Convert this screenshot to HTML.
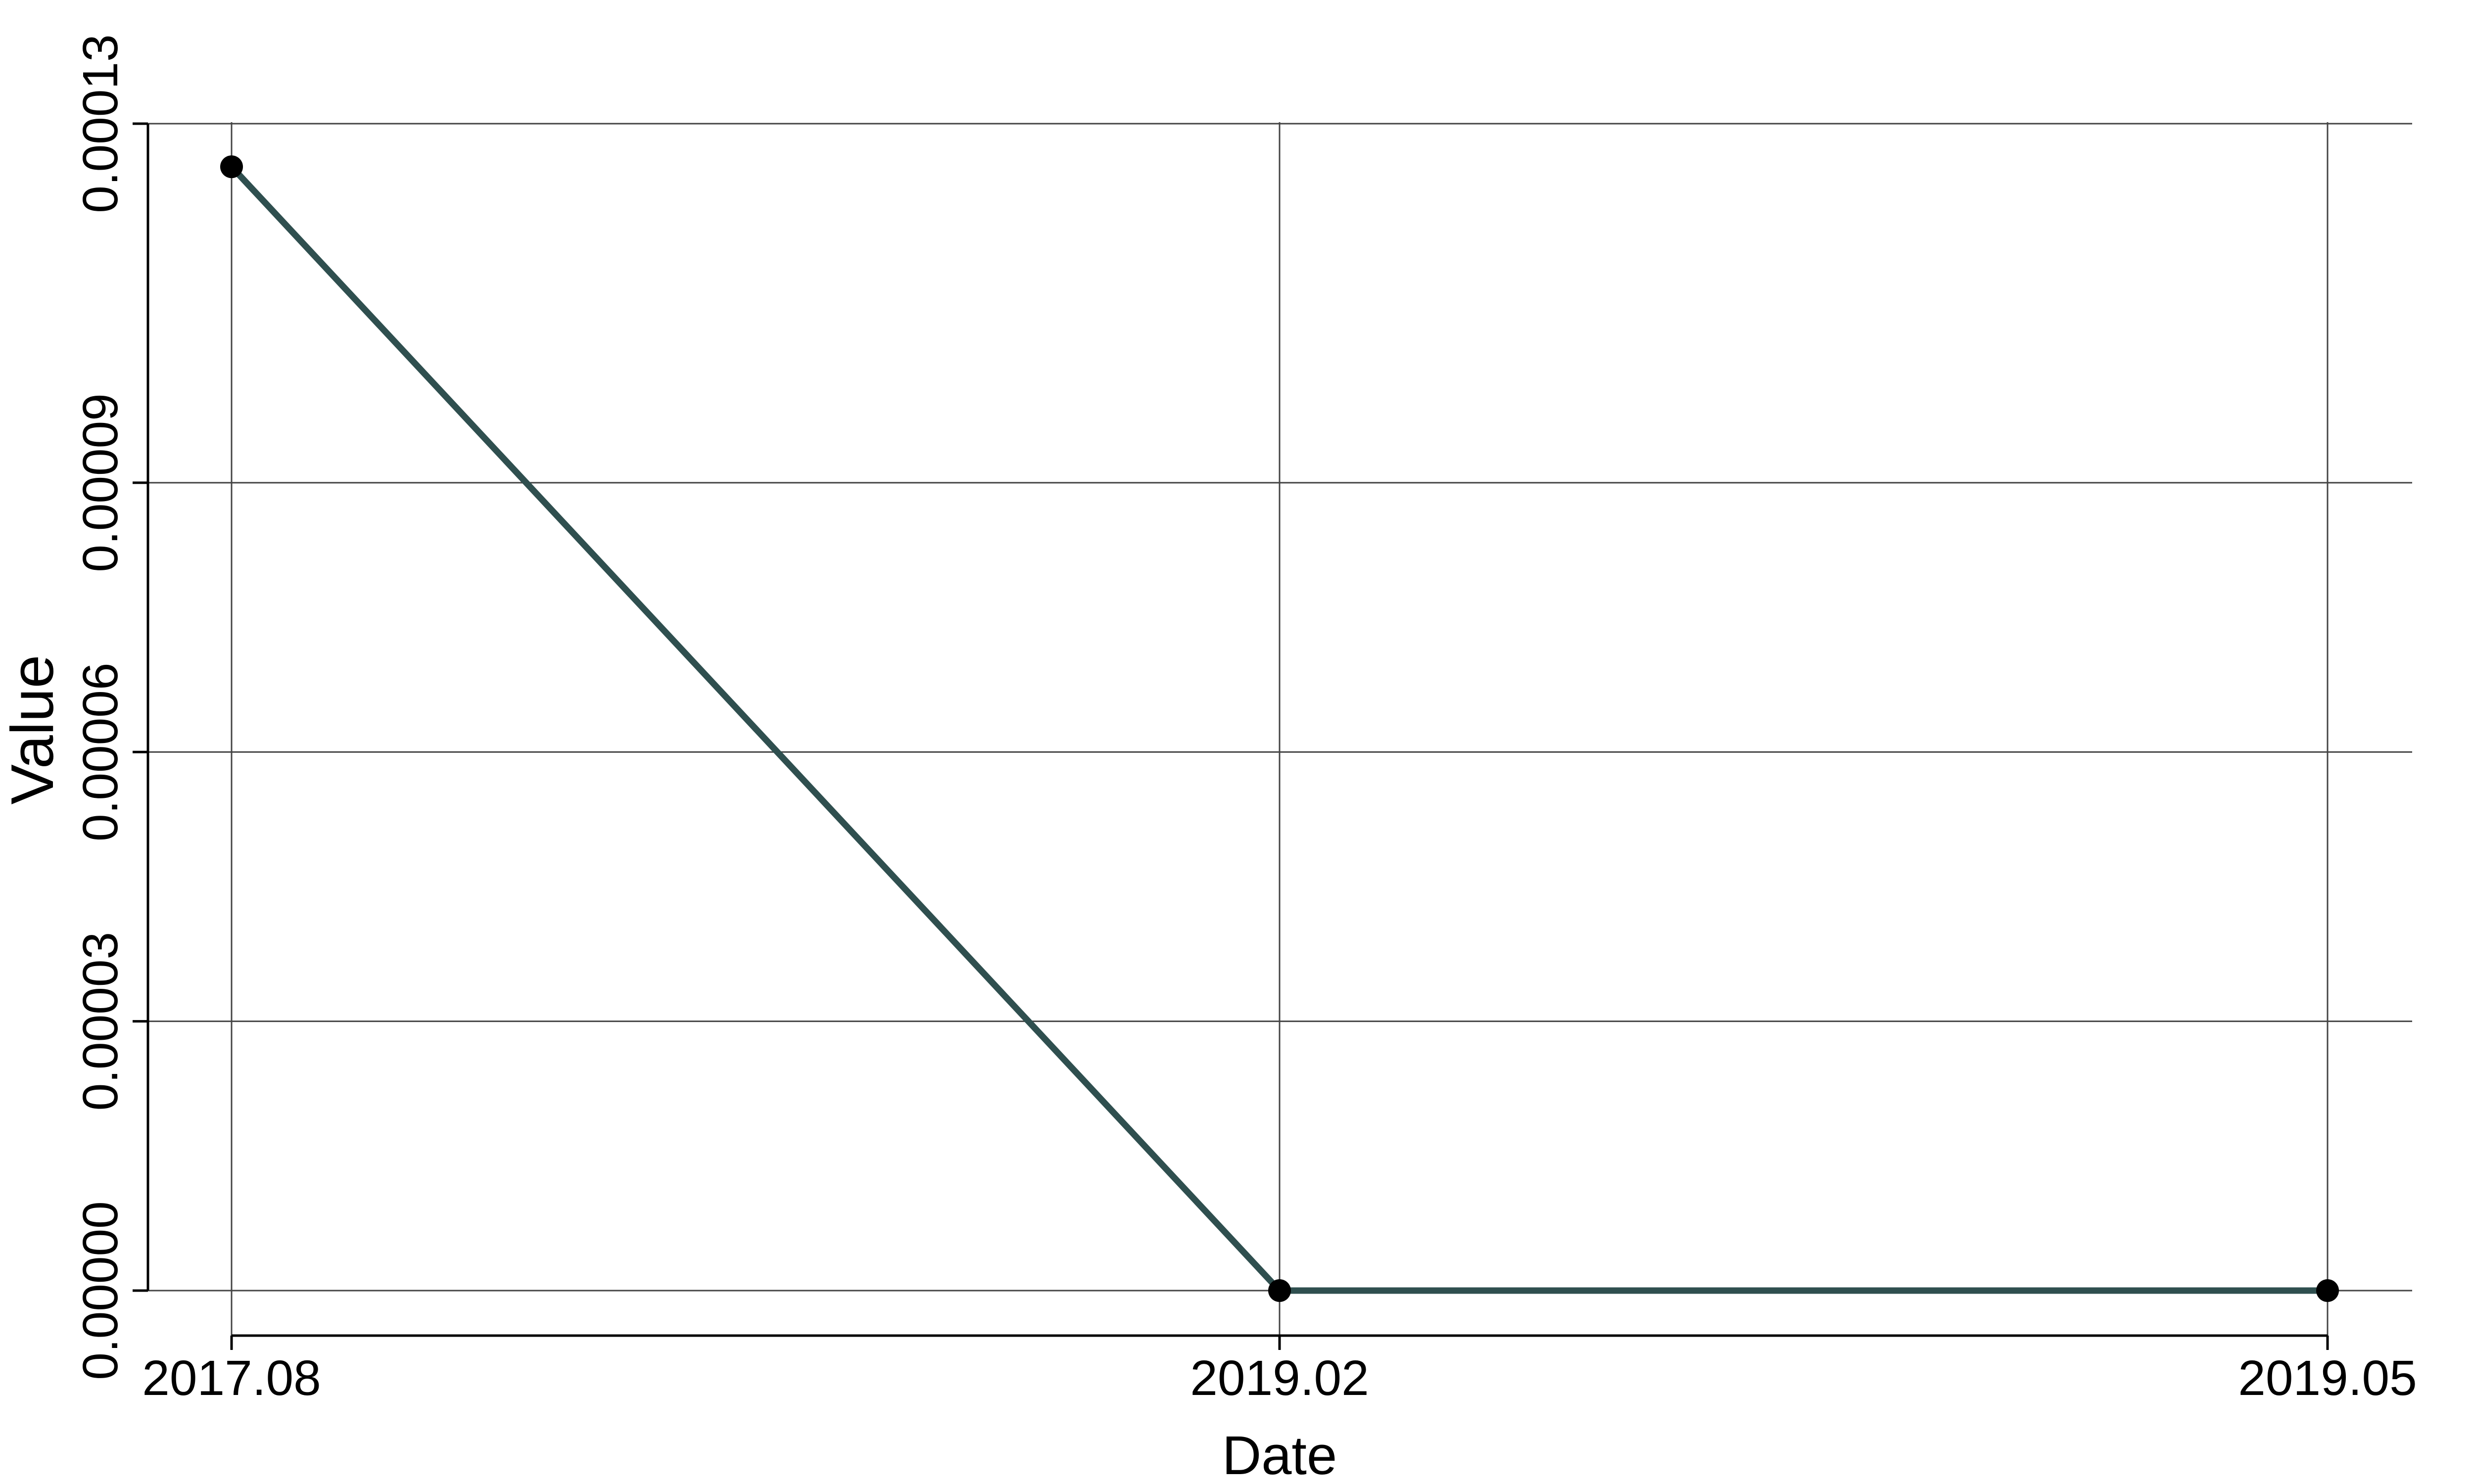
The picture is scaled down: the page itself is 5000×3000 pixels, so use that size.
<!DOCTYPE html>
<html>
<head>
<meta charset="utf-8">
<style>
html,body{margin:0;padding:0;background:#fff;}
svg{display:block;font-family:"Liberation Sans",Arial,sans-serif;}
</style>
</head>
<body>
<svg id="chart" width="5000" height="3000" viewBox="0 0 5000 3000" xmlns="http://www.w3.org/2000/svg">
<rect x="0" y="0" width="5000" height="3000" fill="#fff"/>
<g id="grid"></g>
<g id="axes"></g>
<g id="series"></g>
<text x="2586" y="2980" font-size="110" text-anchor="middle">Date</text>
<text transform="translate(107,1475) rotate(-90)" font-size="122" text-anchor="middle">Value</text>
</svg>
<script>
const categories = ["2017.08", "2019.02", "2019.05"];
const values = [0.0001252, 0, 0];
const yTicks = [0, 0.00003, 0.00006, 0.00009, 0.00013];
const yTickLabels = ["0.00000", "0.00003", "0.00006", "0.00009", "0.00013"];

const NS = "http://www.w3.org/2000/svg";
const X0 = 468, X1 = 4704, Y0 = 2609, Y1 = 250;
const AXL = 299, GRIDR = 4875, XAXY = 2700;
function xPos(i){ return X0 + i * (X1 - X0) / (categories.length - 1); }
function yPos(v){ return Y0 - (v - 0) / (0.00013 - 0) * (Y0 - Y1); }
function mk(tag, attrs, parent){
  const e = document.createElementNS(NS, tag);
  for (const k in attrs) e.setAttribute(k, attrs[k]);
  parent.appendChild(e);
  return e;
}
const grid = document.getElementById('grid');
const axes = document.getElementById('axes');
const series = document.getElementById('series');

yTicks.forEach((t, i) => {
  const y = yPos(t);
  const g = mk('line', {x1: AXL, x2: GRIDR, y1: y, y2: y, stroke: '#444', 'stroke-width': 3}, grid);
  
  
  const tk = mk('line', {x1: 268, x2: AXL, y1: y, y2: y, stroke: '#000', 'stroke-width': 5}, axes);
  
  
  const lb = mk('text', {transform: 'translate(237,' + y + ') rotate(-90)', 'font-size': 100, 'text-anchor': 'middle'}, axes);
  lb.textContent = yTickLabels[i];
  
  
});
categories.forEach((c, i) => {
  const x = xPos(i);
  const g = mk('line', {x1: x, x2: x, y1: 247, y2: XAXY, stroke: '#444', 'stroke-width': 3}, grid);
  
  
  const tk = mk('line', {x1: x, x2: x, y1: XAXY, y2: 2729, stroke: '#000', 'stroke-width': 5}, axes);
  
  
  const lb = mk('text', {x: x, y: 2820, 'font-size': 100, 'text-anchor': 'middle'}, axes);
  lb.textContent = c;
  
  
});
const ya = mk('line', {x1: AXL, x2: AXL, y1: yPos(yTicks[0]), y2: yPos(yTicks[yTicks.length-1]), stroke: '#000', 'stroke-width': 5}, axes);


const xa = mk('line', {x1: xPos(0), x2: xPos(categories.length-1), y1: XAXY, y2: XAXY, stroke: '#000', 'stroke-width': 5}, axes);



const pts = values.map((v, i) => xPos(i) + ',' + yPos(v)).join(' ');
const pl = mk('polyline', {points: pts, fill: 'none', stroke: '#2f4f4f', 'stroke-width': 13, 'stroke-linejoin': 'round'}, series);


values.forEach((v, i) => {
  const c = mk('circle', {cx: xPos(i), cy: yPos(v), r: 23, fill: '#000'}, series);
  
  
});
</script>
</body>
</html>
